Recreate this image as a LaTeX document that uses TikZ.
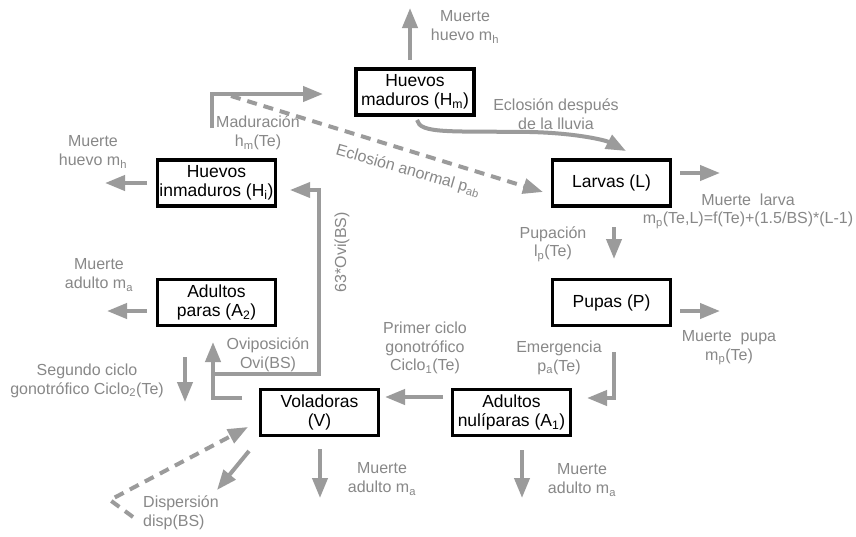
\documentclass[tikz,border=0pt]{standalone}
\usepackage{fontspec}
\setmainfont{Liberation Sans}
\usetikzlibrary{arrows.meta}
\definecolor{arrowgray}{RGB}{155,155,155}
\definecolor{textgray}{RGB}{136,136,136}
\newcommand\sbs[1]{\textsubscript{#1}}
\begin{document}
\begin{tikzpicture}[x=1pt,y=-1pt,
  box/.style={draw=black, line width=3.3pt, minimum width=118pt, minimum height=46pt,
              align=center, font=\fontsize{17.5}{19.5}\selectfont, inner sep=0pt},
  lab/.style={text=textgray, align=center, font=\fontsize{16}{18.5}\selectfont, inner sep=0pt},
  arr/.style={draw=arrowgray, line width=4pt, -{Triangle[length=20pt,width=15pt]}},
  dsh/.style={arr, dash pattern=on 10pt off 7pt},
  thinarr/.style={arr, line width=3.5pt}]
\fill[white] (0,0) rectangle (856,536);
\useasboundingbox (0,0) rectangle (856,536);

% boxes
\node[box] (Hm) at (415,92)   {Huevos\\maduros (H\sbs{m})};
\node[box] (Hi) at (216.5,183) {Huevos\\inmaduros (H\sbs{i})};
\node[box] (L)  at (611.5,183) {Larvas (L)};
\node[box] (P)  at (611.5,302.5) {Pupas (P)};
\node[box] (A2) at (216.5,302.5) {Adultos\\paras (A\sbs{2})};
\node[box] (V)  at (319.5,412.5) {Voladoras\\(V)};
\node[box] (A1) at (511.5,412.5) {Adultos\\nulíparas (A\sbs{1})};

% labels
\node[lab] (lHm)  at (465,27)  {Muerte\\huevo m\sbs{h}};
\node[lab] (lMad) at (258,133) {Maduración\\h\sbs{m}(Te)};
\node[lab] (lEcl) at (556,114) {Eclosión después\\de la lluvia};
\node[lab, rotate=-16] (lAb) at (408,171) {Eclosión anormal p\sbs{ab}};
\node[lab] (lHi)  at (93,152)  {Muerte\\huevo m\sbs{h}};
\node[lab] (lL)   at (748,211) {Muerte\ \ larva\\m\sbs{p}(Te,L)=f(Te)+(1.5/BS)*(L-1)};
\node[lab] (lPup) at (553,244) {Pupación\\l\sbs{p}(Te)};
\node[lab] (lP)   at (729,348) {Muerte\ \ pupa\\m\sbs{p}(Te)};
\node[lab] (lEm)  at (559,358) {Emergencia\\p\sbs{a}(Te)};
\node[lab] (lA2)  at (99,275)  {Muerte\\adulto m\sbs{a}};
\node[lab, rotate=90] (lOvi63) at (342,252) {63*Ovi(BS)};
\node[lab] (lOvi) at (268,355) {Oviposición\\Ovi(BS)};
\node[lab] (lSeg) at (87,381)  {Segundo ciclo\\gonotrófico Ciclo\sbs{2}(Te)};
\node[lab] (lPri) at (425,348) {Primer ciclo\\gonotrófico\\Ciclo\sbs{1}(Te)};
\node[lab, align=left, anchor=west] (lDis) at (143,513) {Dispersión\\disp(BS)};
\node[lab] (lV)   at (382,479) {Muerte\\adulto m\sbs{a}};
\node[lab] (lA1)  at (582,480) {Muerte\\adulto m\sbs{a}};

% connector end points
\coordinate (hmS) at (410,60);   \coordinate (hmE) at (410,8);
\coordinate (madS) at (212,128); \coordinate (madC) at (212,94); \coordinate (madE) at (323,94);
\coordinate (abS) at (231,96);   \coordinate (abE) at (543,192);
\coordinate (eclS) at (417,120); \coordinate (eclM) at (530,132); \coordinate (eclE) at (626,151);
\coordinate (hiS) at (147,183);  \coordinate (hiE) at (105,183);
\coordinate (lS) at (680,173);   \coordinate (lE) at (720,173);
\coordinate (pupS) at (614,227); \coordinate (pupE) at (614,259);
\coordinate (pS) at (680,311);   \coordinate (pE) at (720,311);
\coordinate (emS) at (614,352);  \coordinate (emC) at (614,398); \coordinate (emE) at (587,398);
\coordinate (a1lS) at (443,397); \coordinate (a1lE) at (385,397);
\coordinate (a1dS) at (522,450); \coordinate (a1dE) at (522,498);
\coordinate (vdS) at (320,449);  \coordinate (vdE) at (320,498);
\coordinate (oviS) at (242,398); \coordinate (oviC) at (213,398); \coordinate (oviE) at (213,342);
\coordinate (o63S) at (213,374); \coordinate (o63A) at (319,374); \coordinate (o63B) at (319,190); \coordinate (o63E) at (290,190);
\coordinate (a2S) at (147,311);  \coordinate (a2E) at (107,311);
\coordinate (segS) at (185,357); \coordinate (segE) at (185,402);
\coordinate (dsS) at (249,451);  \coordinate (dsE) at (217,490);
\coordinate (ddS) at (133,517);  \coordinate (ddC) at (110,500); \coordinate (ddE) at (248,427);

% connectors
\draw[arr] (hmS) -- (hmE);
\draw[arr] (madS) -- (madC) -- (madE);
\draw[dsh] (abS) -- (abE);
\draw[arr] (eclS) .. controls (420,134) and (450,131) .. (eclM) .. controls (575,133) and (605,140) .. (eclE);
\draw[arr] (hiS) -- (hiE);
\draw[arr] (lS) -- (lE);
\draw[arr] (pupS) -- (pupE);
\draw[arr] (pS) -- (pE);
\draw[arr] (emS) -- (emC) -- (emE);
\draw[arr] (a1lS) -- (a1lE);
\draw[arr] (a1dS) -- (a1dE);
\draw[arr] (vdS) -- (vdE);
\draw[arr] (oviS) -- (oviC) -- (oviE);
\draw[thinarr] (o63S) -- (o63A) -- (o63B) -- (o63E);
\draw[arr] (a2S) -- (a2E);
\draw[arr] (segS) -- (segE);
\draw[arr] (dsS) -- (dsE);
\draw[dsh] (ddS) -- (ddC) -- (ddE);
\end{tikzpicture}
\end{document}
